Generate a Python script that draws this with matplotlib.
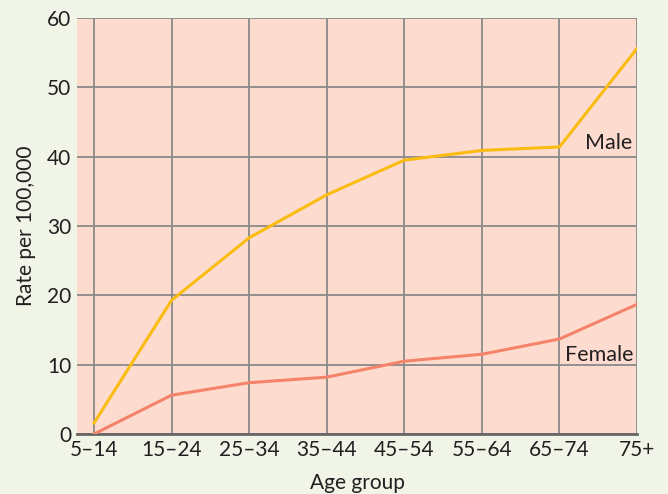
import numpy as np
import matplotlib.pyplot as plt

# Data
age_groups = ['5–14', '15–24', '25–34', '35–44', '45–54', '55–64', '65–74', '75+']
male = [1.6, 19.3, 28.3, 34.5, 39.5, 40.9, 41.4, 55.6]
female = [0.0, 5.6, 7.4, 8.2, 10.5, 11.5, 13.7, 18.7]

plt.rcParams['font.family'] = ['Lato', 'DejaVu Sans']

fig = plt.figure(figsize=(6.68, 4.94), dpi=100, facecolor='#f0f5e8')
ax = fig.add_axes([77 / 668, 60 / 494, 560 / 668, 416 / 494])
ax.set_facecolor('#fddccf')

x = np.arange(len(age_groups))
ax.plot(x, male, color='#fbbc12', lw=2.2, zorder=3)
ax.plot(x, female, color='#f5836a', lw=2.2, zorder=3)

ax.text(6.33, 40.5, 'Male', fontsize=15.5, color='#231f20', va='bottom', ha='left')
ax.text(6.07, 10.0, 'Female', fontsize=15.5, color='#231f20', va='bottom', ha='left')

ax.set_xlim(-0.22, 7)
ax.set_ylim(0, 60)
ax.set_xticks(x)
ax.set_xticklabels(age_groups)
ax.set_yticks(np.arange(0, 61, 10))
ax.tick_params(length=0, labelsize=15, colors='#231f20', pad=4)
ax.grid(True, color='#8a8a8a', lw=1.3)
ax.set_axisbelow(True)
for s in ['left', 'right', 'top']:
    ax.spines[s].set_visible(False)
ax.spines['bottom'].set_color('#666666')
ax.spines['bottom'].set_linewidth(2)

ax.set_xlabel('Age group', fontsize=15, color='#231f20', labelpad=10)
ax.set_ylabel('Rate per 100,000', fontsize=15, color='#231f20', labelpad=8)

fig.savefig('out.png', dpi=100, facecolor=fig.get_facecolor())
